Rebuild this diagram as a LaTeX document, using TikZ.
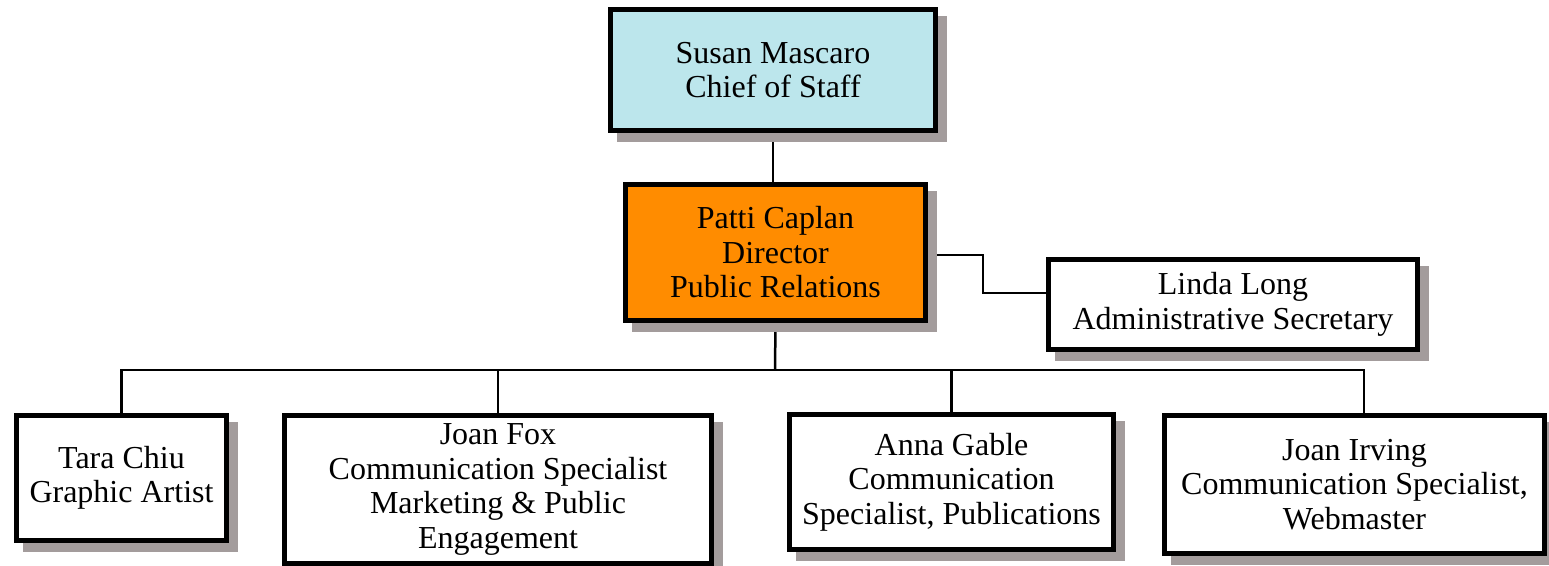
\documentclass[tikz,border=0pt]{standalone}
\usepackage{fontspec}
\setmainfont{Liberation Serif}
\usetikzlibrary{backgrounds}
\definecolor{cyanfill}{HTML}{BCE6EC}
\definecolor{orangefill}{HTML}{FF8C00}
\definecolor{shadowgray}{HTML}{A39C9C}
\tikzset{
  orgbox/.style={draw=black, line width=5pt, fill=white, inner sep=0pt, align=center,
    font=\fontsize{32}{34.5}\selectfont},
  link/.style={line width=2.5pt, draw=black},
  boxshadow/.style={fill=shadowgray},
}
\begin{document}
\begin{tikzpicture}[x=1pt,y=-1pt]
\useasboundingbox (0,0) rectangle (1549,565);
\node[orgbox, fill=cyanfill, minimum width=325pt, minimum height=121pt] (susan) at (773,70) {Susan Mascaro\\Chief of Staff};
\node[orgbox, fill=orangefill, minimum width=300pt, minimum height=136pt] (patti) at (775.5,252.5) {Patti Caplan\\Director\\Public Relations};
\node[orgbox, minimum width=369pt, minimum height=90pt] (linda) at (1233,304.5) {Linda Long\\Administrative Secretary};
\node[orgbox, minimum width=210pt, minimum height=125pt] (tara) at (121.5,478) {Tara Chiu\\Graphic Artist};
\node[orgbox, minimum width=427pt, minimum height=148pt] (fox) at (498,489.5) {Joan Fox\\Communication Specialist\\Marketing \& Public\\Engagement};
\node[orgbox, minimum width=324pt, minimum height=135pt] (anna) at (951.5,482) {Anna Gable\\Communication\\Specialist, Publications};
\node[orgbox, minimum width=380pt, minimum height=138pt] (irving) at (1354.5,484.5) {Joan Irving\\Communication Specialist,\\Webmaster};
\coordinate (bus) at (775,370);
\coordinate (elbowA) at (983,255);
\coordinate (elbowB) at (983,293);
\coordinate (irvtop) at ([xshift=9.5pt]irving.north);
\begin{scope}[on background layer]
  \draw[link] (susan.south) -- (susan.south |- patti.north);
  \draw[link] (patti.south) -- (bus);
  \draw[link] (tara.north) -- (tara.north |- bus) -- (irvtop |- bus) -- (irvtop);
  \draw[link] (fox.north) -- (fox.north |- bus);
  \draw[link] (anna.north) -- (anna.north |- bus);
  \draw[link] (patti.east |- elbowA) -- (elbowA) -- (elbowB) -- (linda.west |- elbowB);
  \foreach \b in {susan,patti,linda,tara,fox,anna,irving}{
    \fill[boxshadow] ([shift={(8.5,8.5)}]\b.south west) rectangle ([shift={(8.5,8.5)}]\b.north east);
  }
\end{scope}
\end{tikzpicture}
\end{document}
